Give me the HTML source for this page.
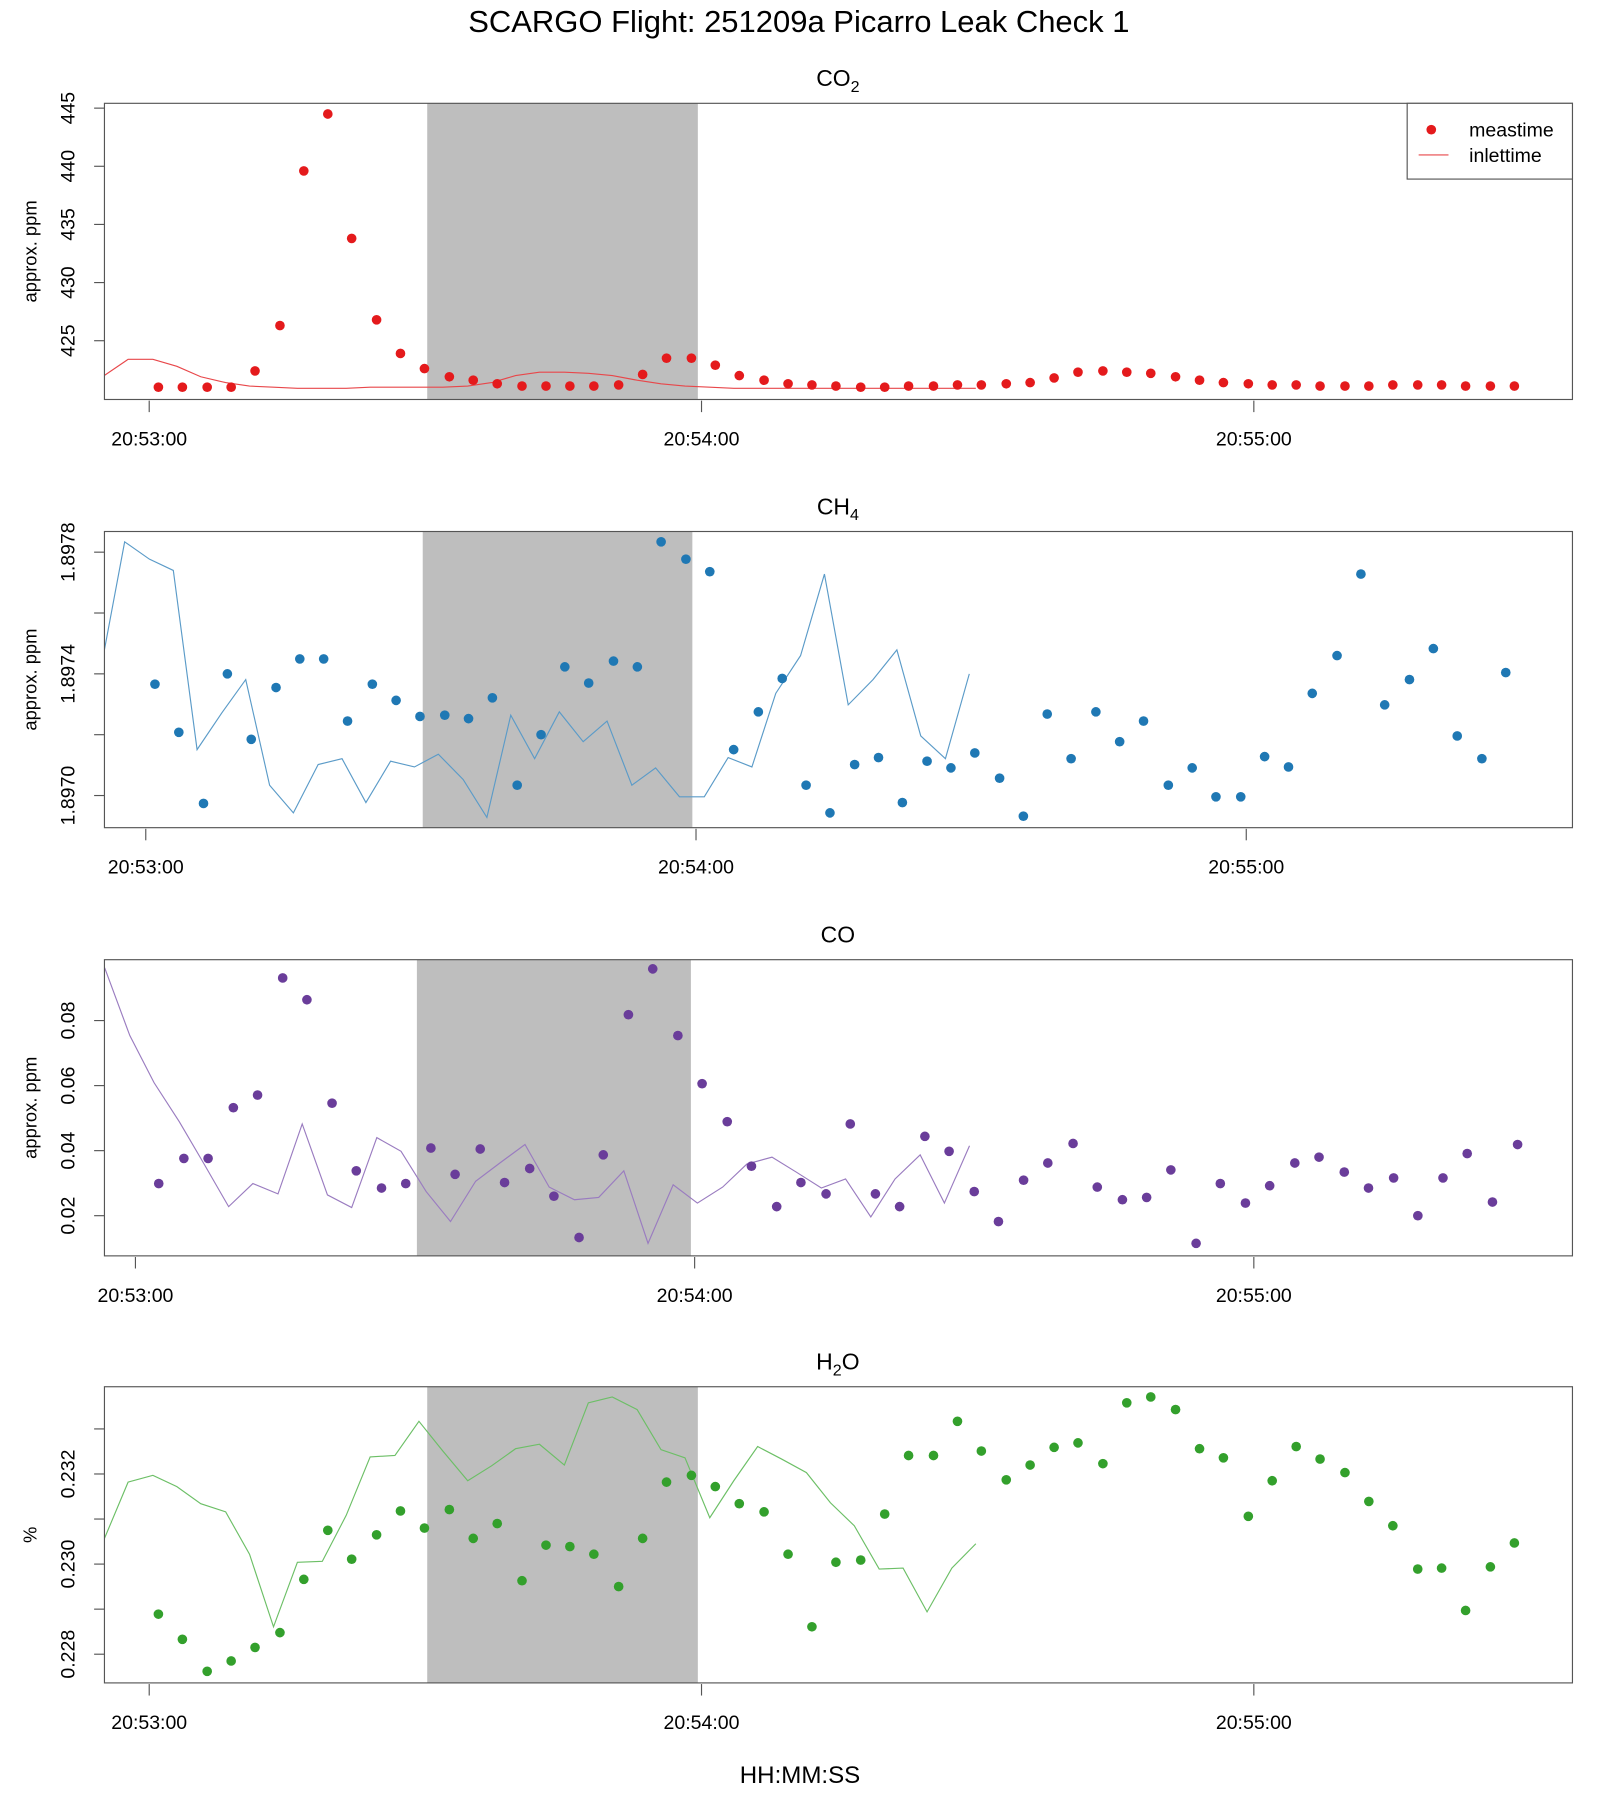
<!DOCTYPE html>
<html><head><meta charset="utf-8"><title>SCARGO Flight 251209a Picarro Leak Check 1</title>
<style>
html,body{margin:0;padding:0;background:#fff;}
svg{display:block;font-family:"Liberation Sans",sans-serif;}
</style></head>
<body>
<svg id="chart" xmlns="http://www.w3.org/2000/svg" width="1600" height="1800" viewBox="0 0 1394 1568" preserveAspectRatio="none">
<text x="696" y="28" text-anchor="middle" font-size="27" fill="#000">SCARGO Flight: 251209a  Picarro Leak Check 1</text>
<text x="697" y="1553" text-anchor="middle" font-size="21" fill="#000">HH:MM:SS</text>
</svg>
<script>
// ---- shared time data (seconds after 20:53:00) ----
const measTimes = [1.0,3.6,6.3,8.9,11.5,14.2,16.8,19.4,22.0,24.7,27.3,29.9,32.6,35.2,37.8,40.5,43.1,45.7,48.3,51.0,53.6,56.2,58.9,61.5,64.1,66.8,69.4,72.0,74.6,77.3,79.9,82.5,85.2,87.8,90.4,93.1,95.7,98.3,100.9,103.6,106.2,108.8,111.5,114.1,116.7,119.4,122.0,124.6,127.2,129.9,132.5,135.1,137.8,140.4,143.0,145.7,148.3];
const inletTimes = [-4.9,-2.3,0.4,3.0,5.6,8.3,10.9,13.5,16.1,18.8,21.4,24.0,26.7,29.3,31.9,34.6,37.2,39.8,42.4,45.1,47.7,50.3,53.0,55.6,58.2,60.9,63.5,66.1,68.7,71.4,74.0,76.6,79.3,81.9,84.5,87.2,89.8];
const coMeasTimes = [2.5,5.2,7.8,10.5,13.1,15.8,18.4,21.1,23.7,26.4,29.0,31.7,34.3,37.0,39.6,42.3,44.9,47.6,50.2,52.9,55.5,58.2,60.8,63.5,66.1,68.8,71.4,74.1,76.7,79.4,82.0,84.7,87.3,90.0,92.6,95.3,97.9,100.6,103.2,105.9,108.5,111.1,113.8,116.4,119.1,121.7,124.4,127.0,129.7,132.3,135.0,137.6,140.3,142.9,145.6,148.3];
const coInletTimes = [-3.3,-0.6,2.0,4.7,7.3,10.0,12.6,15.3,17.9,20.6,23.2,25.9,28.5,31.2,33.8,36.5,39.1,41.8,44.4,47.1,49.7,52.4,55.0,57.7,60.3,63.0,65.6,68.3,70.9,73.6,76.2,78.9,81.5,84.2,86.8,89.5];
const shadeStart = 30.2;
const shadeEnd = 59.6;
const xTickTimes = [0,60,120];
const xTickLabels = ["20:53:00","20:54:00","20:55:00"];

// ---- CO2 ----
const co2Meas = [421,421,421,421,422.4,426.3,439.6,444.5,433.8,426.8,423.9,422.6,421.9,421.6,421.3,421.1,421.1,421.1,421.1,421.2,422.1,423.5,423.5,422.9,422.0,421.6,421.3,421.2,421.1,421.0,421.0,421.1,421.1,421.2,421.2,421.3,421.4,421.8,422.3,422.4,422.3,422.2,421.9,421.6,421.4,421.3,421.2,421.2,421.1,421.1,421.1,421.2,421.2,421.2,421.1,421.1,421.1];
const co2Inlet = [422.0,423.4,423.4,422.8,421.9,421.4,421.1,421.0,420.9,420.9,420.9,421.0,421.0,421.0,421.0,421.1,421.4,422.0,422.3,422.3,422.2,422.0,421.6,421.3,421.1,421.0,420.9,420.9,420.9,420.9,420.9,420.9,420.9,420.9,420.9,420.9,420.9];
const co2Ticks = [425,430,435,440,445];
const co2TickLabels = ["425","430","435","440","445"];

// ---- CH4 ----
const ch4Meas = [1.897366,1.897208,1.896974,1.897400,1.897185,1.897355,1.897449,1.897449,1.897245,1.897366,1.897313,1.897260,1.897264,1.897253,1.897321,1.897034,1.897200,1.897423,1.897370,1.897442,1.897423,1.897834,1.897777,1.897736,1.897151,1.897275,1.897385,1.897034,1.896943,1.897102,1.897125,1.896977,1.897113,1.897091,1.897140,1.897057,1.896932,1.897268,1.897121,1.897275,1.897177,1.897245,1.897034,1.897091,1.896996,1.896996,1.897128,1.897094,1.897336,1.897460,1.897728,1.897298,1.897381,1.897483,1.897196,1.897121,1.897404];
const ch4Inlet = [1.897415,1.897834,1.897777,1.897740,1.897151,1.897272,1.897381,1.897034,1.896943,1.897102,1.897121,1.896977,1.897113,1.897094,1.897136,1.897053,1.896928,1.897264,1.897121,1.897275,1.897177,1.897245,1.897034,1.897091,1.896996,1.896996,1.897125,1.897094,1.897336,1.897460,1.897728,1.897298,1.897381,1.897479,1.897196,1.897121,1.897400];
const ch4Ticks = [1.8970,1.8972,1.8974,1.8976,1.8978];
const ch4TickLabels = ["1.8970","","1.8974","","1.8978"];

// ---- CO ----
const coMeas = [0.0299,0.0376,0.0376,0.0532,0.0571,0.0931,0.0864,0.0546,0.0338,0.0285,0.0299,0.0408,0.0327,0.0405,0.0302,0.0345,0.0260,0.0133,0.0387,0.0818,0.0959,0.0754,0.0606,0.0489,0.0352,0.0228,0.0302,0.0267,0.0482,0.0267,0.0228,0.0444,0.0398,0.0274,0.0182,0.0309,0.0362,0.0422,0.0288,0.0249,0.0256,0.0341,0.0115,0.0299,0.0239,0.0292,0.0362,0.0380,0.0334,0.0285,0.0316,0.0200,0.0316,0.0391,0.0242,0.0419];
const coInlet = [0.0962,0.0754,0.0609,0.0489,0.0362,0.0228,0.0299,0.0267,0.0482,0.0264,0.0225,0.0440,0.0398,0.0274,0.0182,0.0306,0.0362,0.0419,0.0288,0.0249,0.0256,0.0338,0.0115,0.0295,0.0239,0.0288,0.0359,0.0380,0.0334,0.0285,0.0313,0.0196,0.0313,0.0387,0.0239,0.0415];
const coTicks = [0.02,0.04,0.06,0.08];
const coTickLabels = ["0.02","0.04","0.06","0.08"];

// ---- H2O ----
const h2oMeas = [0.22889,0.22833,0.22762,0.22785,0.22815,0.22848,0.22966,0.23075,0.23011,0.23065,0.23118,0.23080,0.23121,0.23057,0.23090,0.22963,0.23042,0.23039,0.23022,0.22950,0.23057,0.23182,0.23197,0.23172,0.23134,0.23116,0.23022,0.22861,0.23004,0.23009,0.23111,0.23241,0.23241,0.23317,0.23251,0.23187,0.23220,0.23259,0.23269,0.23223,0.23358,0.23371,0.23343,0.23256,0.23236,0.23106,0.23185,0.23261,0.23233,0.23203,0.23139,0.23085,0.22989,0.22991,0.22897,0.22994,0.23047];
const h2oInlet = [0.23055,0.23182,0.23197,0.23172,0.23134,0.23116,0.23022,0.22861,0.23004,0.23006,0.23108,0.23238,0.23241,0.23317,0.23251,0.23185,0.23218,0.23256,0.23266,0.23220,0.23358,0.23371,0.23343,0.23254,0.23236,0.23103,0.23185,0.23261,0.23233,0.23203,0.23136,0.23085,0.22989,0.22991,0.22894,0.22991,0.23045];
const h2oTicks = [0.228,0.229,0.230,0.231,0.232,0.233];
const h2oTickLabels = ["0.228","","0.230","","0.232",""];

const NS = "http://www.w3.org/2000/svg";
const svg = document.getElementById('chart');
function mk(tag, attrs, parent){
  const e = document.createElementNS(NS, tag);
  for (const k in attrs) e.setAttribute(k, attrs[k]);
  (parent||svg).appendChild(e);
  return e;
}

function panel(cfg){
  const g = mk('g', {});
  
  
  const L = 91, R = 1370, T = cfg.top, B = cfg.top + 258;
  const xs = t => cfg.x0 + cfg.xs * t;
  const ys = v => cfg.y0 - (v - cfg.v0) * cfg.ys;
  const sh = mk('rect', {x: xs(shadeStart), y: T, width: xs(shadeEnd) - xs(shadeStart), height: B - T, fill: '#bebebe'}, g);
  
  
  const tt = mk('text', {x: 730, y: T - 15, 'text-anchor': 'middle', 'font-size': 20}, g);
  
  
  tt.innerHTML = cfg.title;
  const clip = 'clip-' + cfg.key;
  const cp = mk('clipPath', {id: clip}, g);
  mk('rect', {x: L, y: T, width: R - L, height: B - T}, cp);
  let d = '';
  cfg.inletT.forEach((t, i) => { d += (i ? 'L' : 'M') + xs(t).toFixed(1) + ',' + ys(cfg.inlet[i]).toFixed(1); });
  const ln = mk('path', {d: d, fill: 'none', stroke: cfg.lineColor, 'stroke-width': 1, 'clip-path': 'url(#' + clip + ')'}, g);
  
  
  cfg.measT.forEach((t, i) => {
    const c = mk('circle', {cx: xs(t).toFixed(1), cy: ys(cfg.meas[i]).toFixed(1), r: 4.2, fill: cfg.color}, g);
    
    
  });
  const fr = mk('rect', {x: L, y: T, width: R - L, height: B - T, fill: 'none', stroke: '#555', 'stroke-width': 1}, g);
  
  
  cfg.ticks.forEach((v, i) => {
    const y = ys(v);
    mk('line', {x1: L - 9, x2: L, y1: y, y2: y, stroke: '#555'}, g);
    if (cfg.tickLabels[i]) {
      const tl = mk('text', {x: 0, y: 0, transform: 'translate(65,' + y.toFixed(1) + ') rotate(-90)', 'text-anchor': 'middle', 'font-size': 17}, g);
      
      
      tl.textContent = cfg.tickLabels[i];
    }
  });
  const yt = mk('text', {x: 0, y: 0, transform: 'translate(32,' + ((T + B) / 2) + ') rotate(-90)', 'text-anchor': 'middle', 'font-size': 16}, g);
  
  
  yt.textContent = cfg.yTitle;
  xTickTimes.forEach((t, i) => {
    const x = xs(t);
    mk('line', {x1: x, x2: x, y1: B + 1, y2: B + 11, stroke: '#555'}, g);
    const xl = mk('text', {x: x, y: B + 40, 'text-anchor': 'middle', 'font-size': 17}, g);
    
    
    xl.textContent = xTickLabels[i];
  });
  return g;
}

panel({key:'co2', title:'CO<tspan font-size="14" dy="5">2</tspan>', top:90, x0:130, xs:8.02, v0:425, y0:296.8, ys:10.13,
  measT:measTimes, meas:co2Meas, inletT:inletTimes, inlet:co2Inlet, ticks:co2Ticks, tickLabels:co2TickLabels,
  color:'#e41a1c', lineColor:'#e8474a', yTitle:'approx. ppm'});
panel({key:'ch4', title:'CH<tspan font-size="14" dy="5">4</tspan>', top:463, x0:127, xs:7.99, v0:1.8970, y0:693, ys:265000,
  measT:measTimes, meas:ch4Meas, inletT:inletTimes, inlet:ch4Inlet, ticks:ch4Ticks, tickLabels:ch4TickLabels,
  color:'#1f78b4', lineColor:'#5b9bc8', yTitle:'approx. ppm'});
panel({key:'co', title:'CO', top:836, x0:118, xs:8.12, v0:0.02, y0:1059, ys:2833,
  measT:coMeasTimes, meas:coMeas, inletT:coInletTimes, inlet:coInlet, ticks:coTicks, tickLabels:coTickLabels,
  color:'#6a3d9a', lineColor:'#9a7cc0', yTitle:'approx. ppm'});
panel({key:'h2o', title:'H<tspan font-size="14" dy="5">2</tspan><tspan dy="-5">O</tspan>', top:1208, x0:130, xs:8.02, v0:0.228, y0:1441, ys:39250,
  measT:measTimes, meas:h2oMeas, inletT:inletTimes, inlet:h2oInlet, ticks:h2oTicks, tickLabels:h2oTickLabels,
  color:'#33a02c', lineColor:'#6cbf66', yTitle:'%'});

const lg = mk('g', {});


mk('rect', {x:1226, y:90, width:144, height:66, fill:'#fff', stroke:'#555'}, lg);
const le1 = mk('circle', {cx:1247, cy:113, r:4.2, fill:'#e41a1c'}, lg);


const lt1 = mk('text', {x:1280, y:119, 'font-size':17}, lg);


lt1.textContent = 'meastime';
const le2 = mk('line', {x1:1236, x2:1262, y1:135, y2:135, stroke:'#e8474a'}, lg);


const lt2 = mk('text', {x:1280, y:141, 'font-size':17}, lg);


lt2.textContent = 'inlettime';
</script>
</body></html>
